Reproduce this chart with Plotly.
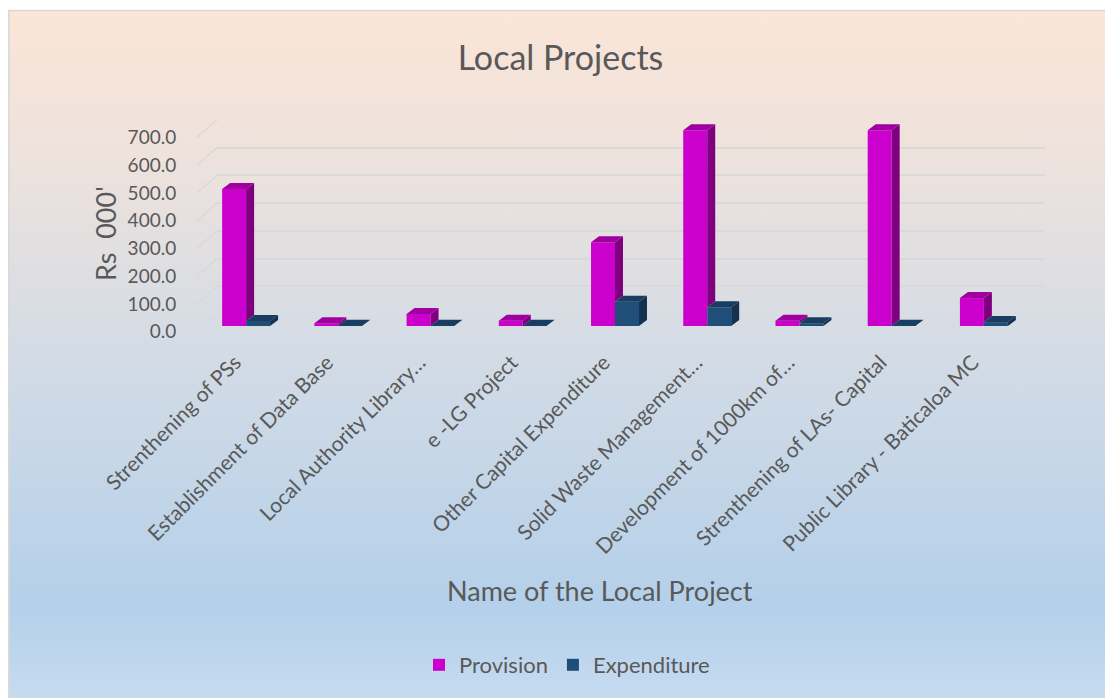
import plotly.graph_objects as go
import base64

categories = ["Strenthening of PSs", "Establishment of Data Base", "Local Authority Library…",
              "e -LG Project", "Other Capital Expenditure", "Solid Waste Management…",
              "Development of 1000km of…", "Strenthening of LAs- Capital",
              "Public Library - Baticaloa MC"]
provision = [490, 10, 43, 19, 300, 700, 19, 700, 100]
expenditure = [18, 1, 1, 1, 87, 67, 10, 1, 14]
y_ticks = [0, 100, 200, 300, 400, 500, 600, 700]
y_ticktext = ["%.1f" % v for v in y_ticks]
YTOP = 700

# figure pixel layout (page body adds an 8px offset)
W, H = 1105, 690
L, R, T, B = 189, 68, 106, 366
PW, PH = W - L - R, H - T - B

def fx(p):
    return (p - L) / PW

def fy(p):
    return (T + PH - p) / PH

# planes of the pseudo-3D chart (pixel geometry)
BAR_X0, BAR_X1, BAR_Y0, BAR_SCALE = 192, 1022, 318, 0.2795
BACK_X0, BACK_X1, BACK_Y0, BACK_Y1 = 209, 1037, 306, 112
FRONT_X, FRONT_Y0, FRONT_Y1 = 189, 323.7, 129.5

XMIN, XMAX = -0.5, len(categories) - 0.5
BAR_YMAX = (BAR_Y0 - T) / BAR_SCALE
DX = 8 / ((BAR_X1 - BAR_X0) / (XMAX - XMIN))
DY = 6 / BAR_SCALE
BW = 0.26

FONT = "Lato"
TXT = "#595959"
GRID = "#D9D9D9"

def faces(values, x_left_offset, base_values=None):
    side_x, side_y, top_x, top_y = [], [], [], []
    for i, v in enumerate(values):
        xl = i + x_left_offset
        xr = xl + BW
        b = 0 if base_values is None else min(base_values[i], v)
        side_x += [xr, xr + DX, xr + DX, xr, xr, None]
        side_y += [b, b + DY, v + DY, v, b, None]
        top_x += [xl, xr, xr + DX, xl + DX, xl, None]
        top_y += [v, v, v + DY, v + DY, v, None]
    return side_x, side_y, top_x, top_y

xs = list(range(len(categories)))
fig = go.Figure()

# back wall subplot (gridlines only)
fig.add_trace(go.Scatter(x=[0.5], y=[0], mode="markers", marker=dict(opacity=0),
                         showlegend=False, hoverinfo="skip", xaxis="x", yaxis="y"))

fig.add_trace(go.Bar(x=xs, y=provision, name="Provision", offset=-BW, width=BW,
                     marker=dict(color="#CC00CC", line=dict(width=0)),
                     xaxis="x2", yaxis="y2"))
fig.add_trace(go.Bar(x=xs, y=expenditure, name="Expenditure", offset=0, width=BW,
                     marker=dict(color="#1F4E79", line=dict(width=0)),
                     xaxis="x2", yaxis="y2"))

psx, psy, ptx, pty = faces(provision, -BW, expenditure)
esx, esy, etx, ety = faces(expenditure, 0)
for px, py, col in [(psx, psy, "#7F007F"), (ptx, pty, "#A000A0"),
                    (esx, esy, "#14324F"), (etx, ety, "#183D60")]:
    fig.add_trace(go.Scatter(x=px, y=py, mode="lines", fill="toself", fillcolor=col,
                             line=dict(width=0, color=col), showlegend=False,
                             hoverinfo="skip", xaxis="x2", yaxis="y2"))

# front plane axis (tick labels only)
fig.add_trace(go.Scatter(x=[0.5], y=[0], mode="markers", marker=dict(opacity=0),
                         showlegend=False, hoverinfo="skip", xaxis="x3", yaxis="y3"))

svg = f'''<svg xmlns="http://www.w3.org/2000/svg" width="{W}" height="{H}" viewBox="0 0 {W} {H}" preserveAspectRatio="none">
<defs><linearGradient id="g" x1="0" y1="0" x2="0" y2="1">
<stop offset="0" stop-color="#FBE5D7"/>
<stop offset="0.22" stop-color="#EDE2DD"/>
<stop offset="0.47" stop-color="#D5DCE5"/>
<stop offset="0.85" stop-color="#B4D0EA"/>
<stop offset="1" stop-color="#C8DCF0"/>
</linearGradient></defs>
<rect x="0" y="0" width="{W}" height="{H}" fill="#FFFFFF"/>
<rect x="0.75" y="2.5" width="{W + 10}" height="{H + 10}" fill="url(#g)" stroke="#D9D9D9" stroke-width="1.5"/>
</svg>'''
src = "data:image/svg+xml;base64," + base64.b64encode(svg.encode()).decode()
fig.add_layout_image(dict(source=src, xref="paper", yref="paper",
                          x=-L / PW, y=1 + T / PH, sizex=W / PW, sizey=H / PH,
                          xanchor="left", yanchor="top", sizing="stretch", layer="below"))

# side-wall edges joining front plane to back wall at each gridline
front_scale = (FRONT_Y0 - FRONT_Y1) / YTOP
back_scale = (BACK_Y0 - BACK_Y1) / YTOP
shapes = []
for v in y_ticks:
    shapes.append(dict(type="line", xref="paper", yref="paper",
                       x0=fx(FRONT_X), y0=fy(FRONT_Y0 - v * front_scale),
                       x1=fx(BACK_X0), y1=fy(BACK_Y0 - v * back_scale),
                       line=dict(color=GRID, width=1.6), layer="below"))

hidden = dict(showgrid=False, zeroline=False, showline=False, showticklabels=False,
              ticks="")

fig.update_layout(
    width=W, height=H,
    margin=dict(l=L, r=R, t=T, b=B, autoexpand=False),
    paper_bgcolor="white", plot_bgcolor="rgba(0,0,0,0)",
    barmode="overlay",
    font=dict(family=FONT, color=TXT),
    title=dict(text="Local Projects", x=0.5, xanchor="center", xref="container",
               y=1 - 50 / H, yref="container", yanchor="middle",
               font=dict(size=34, family=FONT, color=TXT)),
    xaxis=dict(domain=[fx(BACK_X0), fx(BACK_X1)], range=[0, 1], anchor="y", **hidden),
    yaxis=dict(domain=[fy(BACK_Y0), fy(BACK_Y1)], range=[0, YTOP], anchor="x",
               tickmode="array", tickvals=y_ticks, showgrid=True, gridcolor=GRID,
               gridwidth=1.6, zeroline=False, showline=False, showticklabels=False,
               ticks=""),
    xaxis2=dict(domain=[fx(BAR_X0), fx(BAR_X1)], range=[XMIN, XMAX], anchor="y2",
                tickmode="array", tickvals=[x - 0.12 for x in xs], ticktext=categories,
                tickangle=-45, tickfont=dict(size=21, color=TXT), showgrid=False,
                zeroline=False, showline=False, ticks="outside", ticklen=15,
                tickcolor="rgba(0,0,0,0)"),
    yaxis2=dict(domain=[fy(BAR_Y0), 1], range=[0, BAR_YMAX], anchor="x2", **hidden),
    xaxis3=dict(domain=[0, 1], range=[0, 1], anchor="y3", **hidden),
    yaxis3=dict(domain=[fy(FRONT_Y0), fy(FRONT_Y1)], range=[0, YTOP], anchor="x3",
                tickmode="array", tickvals=y_ticks, ticktext=y_ticktext,
                tickfont=dict(size=19, color=TXT), showgrid=False, zeroline=False,
                showline=False, ticks="outside", ticklen=16,
                tickcolor="rgba(0,0,0,0)"),
    shapes=shapes,
    legend=dict(orientation="h", x=fx(559), xanchor="center", y=fy(657),
                yanchor="middle", font=dict(size=22, color=TXT),
                bgcolor="rgba(0,0,0,0)", traceorder="normal"),
    annotations=[
        dict(text="Name of the Local Project", xref="paper", yref="paper",
             x=fx(592), y=fy(582), xanchor="center", yanchor="middle",
             showarrow=False, font=dict(size=27, color=TXT, family=FONT)),
        dict(text="Rs\u00a0\u00a0000'", xref="paper", yref="paper",
             x=fx(97), y=fy(226), xanchor="center", yanchor="middle",
             textangle=-90, showarrow=False, font=dict(size=27, color=TXT, family=FONT)),
    ],
)

fig.write_html("out.html")
